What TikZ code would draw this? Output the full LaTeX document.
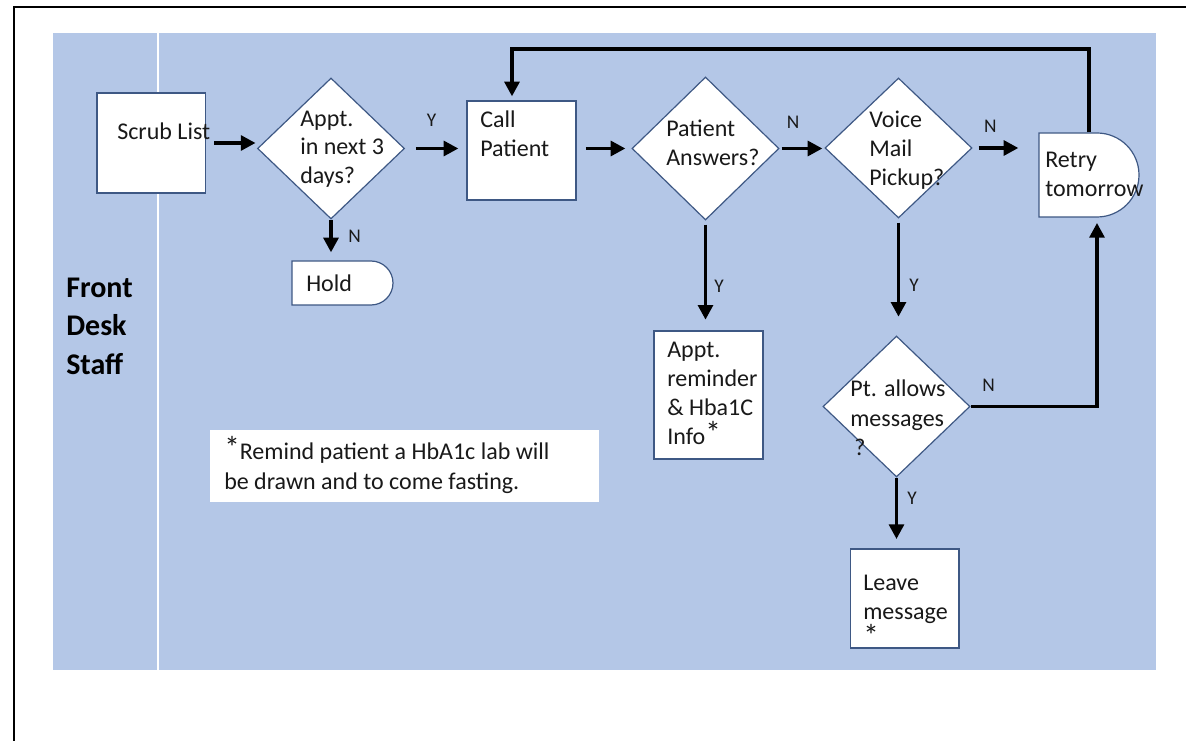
\documentclass[tikz,border=0pt]{standalone}
\usepackage{fontspec}
\setmainfont{Carlito}
\usetikzlibrary{arrows.meta,shapes.geometric,shapes.misc}
\definecolor{lane}{RGB}{180,199,231}
\definecolor{edgec}{RGB}{62,88,132}
\definecolor{ink}{RGB}{25,25,25}
\newcommand{\hstar}{\raisebox{0.06em}{\scalebox{1.3}{*}}}
\begin{document}
\begin{tikzpicture}[x=0.75pt,y=-0.75pt,
  box/.style={draw=edgec,fill=white,line width=0.9pt,inner sep=0,rectangle},
  dia/.style={draw=edgec,fill=white,line width=0.9pt,inner sep=0,diamond},
  term/.style={draw=edgec,fill=white,line width=0.9pt,inner sep=0,rounded rectangle,rounded rectangle west arc=none},
  txt/.style={anchor=base west,inner sep=0,text=ink,font=\fontsize{18}{21.6}\selectfont},
  yn/.style={anchor=base west,inner sep=0,text=ink,font=\fontsize{14.5}{17}\selectfont},
  lanetitle/.style={anchor=base west,inner sep=0,font=\bfseries\fontsize{22.5}{27}\selectfont},
  flow/.style={line width=2.8pt,-{Triangle[length=11pt,width=11pt]}},
]
\useasboundingbox (0,0) rectangle (1186,741);
% outer frame
\draw[line width=1.5pt] (14,745) -- (14,7) -- (1190,7);
% swimlane
\fill[lane] (53,33) rectangle (1156,670);
\draw[white,line width=1.5pt] (158,33) -- (158,670);

% shapes
\node[box,minimum width=81.4pt,minimum height=75pt] (scrub) at (151.25,143) {};
\node[dia,minimum width=110.25pt,minimum height=105.75pt] (d1) at (331,148.5) {};
\node[box,minimum width=81.75pt,minimum height=74.25pt] (call) at (521.5,150.5) {};
\node[term,minimum width=75.75pt,minimum height=33pt] (hold) at (342.5,283) {};
\node[dia,minimum width=110.25pt,minimum height=107.25pt] (d2) at (705.5,148.5) {};
\node[dia,minimum width=110.25pt,minimum height=105pt] (d3) at (898.5,148) {};
\node[term,minimum width=75pt,minimum height=63pt] (retry) at (1089,175) {};
\node[box,minimum width=81.75pt,minimum height=96pt] (remind) at (708.5,395) {};
\node[dia,minimum width=110.25pt,minimum height=105.75pt] (d4) at (896.5,406.5) {};
\node[box,minimum width=81.4pt,minimum height=74.25pt] (leave) at (904.75,598.5) {};
\node[fill=white,inner sep=0,minimum width=291.4pt,minimum height=54pt] (note) at (404.75,466) {};

% connectors
\draw[flow,shorten <=6pt,shorten >=1pt] (scrub.east) -- (scrub.east -| d1.west);
\draw[flow,shorten <=8pt,shorten >=6pt] (d1.east) -- (d1.east -| call.west);
\draw[flow,shorten <=7pt,shorten >=4.5pt] (d2.west -| call.east) -- (d2.west);
\draw[flow,shorten <=1.5pt,shorten >=1.5pt] (d2.east) -- (d2.east -| d3.west);
\draw[flow,shorten <=4.5pt,shorten >=15pt] (d3.east) -- (d3.east -| retry.west);
\draw[flow,shorten >=6pt] (d1.south) -- (d1.south |- hold.north);
\draw[flow,shorten <=3pt,shorten >=8pt] (d2.south) -- (d2.south |- remind.north);
\draw[flow,shorten <=3pt,shorten >=14pt] (d3.south) -- (d3.south |- d4.north);
\draw[flow,shorten >=7pt] (d4.south) -- (d4.south |- leave.north);
\coordinate (nturn) at (1097,406.5);
\draw[flow,shorten >=4pt] (d4.east) -- (nturn) -- (nturn |- retry.south);
\coordinate (loopR) at (1089,49);
\coordinate (loopL) at (512,49);
\draw[flow,shorten >=3pt] (retry.north) -- (loopR) -- (loopL) -- (loopL |- call.north);

% branch labels
\node[yn] (lY1) at (426.7,127) {Y};
\node[yn] (lN1) at (348,243) {N};
\node[yn] (lN2) at (786.7,129) {N};
\node[yn] (lN3) at (983.8,133) {N};
\node[yn] (lY2) at (714,293) {Y};
\node[yn] (lY3) at (909,292) {Y};
\node[yn] (lN4) at (982,392) {N};
\node[yn] (lY4) at (907,505) {Y};

% shape texts
\node[txt] (scrubT) at (117,140) {Scrub List};
\node[txt] (d1a) at (300,126.7) {Appt.};
\node[txt] (d1b) at (300,155) {in next 3};
\node[txt] (d1c) at (300,184) {days?};
\node[txt] (callA) at (480,128) {Call};
\node[txt] (callB) at (480,157) {Patient};
\node[txt] (holdT) at (306,292) {Hold};
\node[txt] (d2a) at (666,137) {Patient};
\node[txt] (d2b) at (666,166) {Answers?};
\node[txt] (d3a) at (869,128) {Voice};
\node[txt] (d3b) at (869,157) {Mail};
\node[txt] (d3c) at (869,186) {Pickup?};
\node[txt] (retryA) at (1045,168) {Retry};
\node[txt] (retryB) at (1045,197) {tomorrow};
\node[txt] (remA) at (667,358) {Appt.};
\node[txt] (remB) at (667,387) {reminder};
\node[txt] (remC) at (667,416) {\& Hba1C};
\node[txt] (remD) at (667,445) {Info\hstar};
\node[txt] (d4a) at (850,397) {Pt. allows};
\node[txt] (d4b) at (850,427) {messages};
\node[txt] (d4c) at (854,456) {?};
\node[txt] (leaveA) at (863,590) {Leave};
\node[txt] (leaveB) at (863,619) {message};
\node[txt] (leaveC) at (863,648) {\hstar};
\node[txt] (noteA) at (224,460) {\hstar Remind patient a HbA1c lab will};
\node[txt] (noteB) at (224,490) {be drawn and to come fasting.};

% lane title
\node[lanetitle] (laneA) at (66,298) {Front};
\node[lanetitle] (laneB) at (66,336) {Desk};
\node[lanetitle] (laneC) at (66,375) {Staff};
\end{tikzpicture}
\end{document}
